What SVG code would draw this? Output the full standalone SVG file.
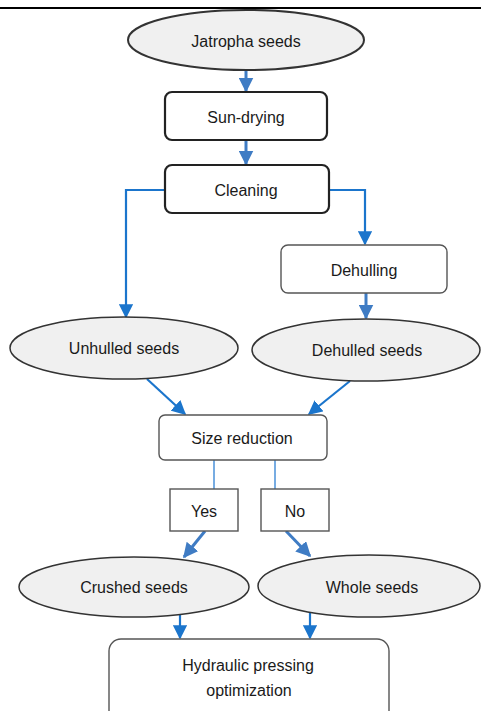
<svg xmlns="http://www.w3.org/2000/svg" width="481" height="711" viewBox="0 0 481 711">
<defs>
<marker id="ah" viewBox="0 0 10 10" refX="9" refY="5" markerWidth="5" markerHeight="5" orient="auto" markerUnits="strokeWidth">
<path d="M0,0 L10,5 L0,10 z" fill="#3f7cc4"/>
</marker>
<marker id="ah2" viewBox="0 0 10 10" refX="9" refY="5" markerWidth="6.5" markerHeight="6.5" orient="auto" markerUnits="strokeWidth">
<path d="M0,0 L10,5 L0,10 z" fill="#1b75cc"/>
</marker>
</defs>
<style>
text{font-family:"Liberation Sans",Arial,sans-serif;font-size:16px;fill:#1a1a1a;text-anchor:middle}
.ell{fill:#f0f0f0;stroke:#333;stroke-width:1.5}
.ell2{fill:#f0f0f0;stroke:#333;stroke-width:2}
.bx{fill:#fff;stroke:#222;stroke-width:2.2}
.bx2{fill:#fff;stroke:#555;stroke-width:1.4}
.c{fill:none;stroke:#3f7cc4;stroke-width:3;marker-end:url(#ah)}
.c2{fill:none;stroke:#1b75cc;stroke-width:2.2;marker-end:url(#ah2)}
.t{fill:none;stroke:#4a90d9;stroke-width:1.5}
</style>
<rect width="481" height="711" fill="#fff"/>
<line x1="0" y1="8" x2="481" y2="8" stroke="#000" stroke-width="2"/>
<g id="connectors">
<line class="c" x1="246" y1="70" x2="246" y2="91"/>
<line class="c" x1="246" y1="140" x2="246" y2="164"/>
<polyline class="c2" points="165,190 126,190 126,317"/>
<polyline class="c2" points="329,190 365,190 365,244"/>
<line class="c" x1="366" y1="293" x2="366" y2="318"/>
<line class="c2" x1="147" y1="379" x2="185" y2="414"/>
<line class="c2" x1="350" y1="381" x2="309" y2="414"/>
<line class="t" x1="214" y1="460" x2="214" y2="489"/>
<line class="t" x1="275" y1="460" x2="275" y2="489"/>
<line class="c" x1="205" y1="531" x2="184" y2="557"/>
<line class="c" x1="286" y1="531" x2="310" y2="556"/>
<line class="c2" x1="180" y1="611" x2="180" y2="638"/>
<line class="c2" x1="310" y1="611" x2="310" y2="638"/>
</g>
<g id="jatropha"><ellipse class="ell2" cx="246" cy="40" rx="118" ry="30"/><text x="246" y="47">Jatropha seeds</text></g>
<g id="sundrying"><rect class="bx" x="165" y="92" width="162" height="48" rx="7"/><text x="246" y="123">Sun-drying</text></g>
<g id="cleaning"><rect class="bx" x="165" y="165" width="164" height="48" rx="7"/><text x="246" y="196">Cleaning</text></g>
<g id="dehulling"><rect class="bx2" x="281" y="245" width="166" height="48" rx="7"/><text x="364" y="276">Dehulling</text></g>
<g id="unhulled"><ellipse class="ell" cx="124" cy="348" rx="114" ry="31"/><text x="124" y="354">Unhulled seeds</text></g>
<g id="dehulled"><ellipse class="ell" cx="366" cy="350" rx="114" ry="31"/><text x="367" y="356">Dehulled seeds</text></g>
<g id="sizereduction"><rect class="bx2" x="159" y="415" width="168" height="45" rx="6"/><text x="242" y="444">Size reduction</text></g>
<g id="yes"><rect class="bx2" x="170" y="489" width="68" height="42"/><text x="204" y="517">Yes</text></g>
<g id="no"><rect class="bx2" x="261" y="489" width="68" height="42"/><text x="295" y="517">No</text></g>
<g id="crushed"><ellipse class="ell" cx="134" cy="587" rx="115" ry="30"/><text x="134" y="593">Crushed seeds</text></g>
<g id="whole"><ellipse class="ell" cx="369" cy="586" rx="111" ry="31"/><text x="372" y="593">Whole seeds</text></g>
<g id="hydraulic"><rect class="bx2" x="109" y="639" width="280" height="90" rx="12"/><text x="248" y="671">Hydraulic pressing</text><text x="249" y="696">optimization</text></g>
</svg>
